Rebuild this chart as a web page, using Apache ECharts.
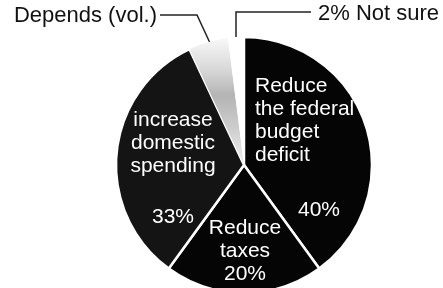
<!DOCTYPE html>
<html lang="en">
<head>
<meta charset="UTF-8">
<title>Pie</title>
<script src="https://cdn.jsdelivr.net/npm/echarts@6/dist/echarts.min.js"></script>
<style>
  html, body { margin: 0; padding: 0; background: #fff; }
  #chart { width: 443px; height: 288px; }
</style>
</head>
<body>
<div id="chart"></div>
<script>
  // data, clockwise from 12 o'clock
  var names = ['Reduce the federal budget deficit', 'Reduce taxes', 'increase domestic spending', 'Depends (vol.)', 'Not sure'];
  var values = [40, 20, 33, 5, 2];

  // speckled light gray for "Depends", densest around mid radius
  var dependsFill = new echarts.graphic.LinearGradient(0, 0, 0, 1, [
    { offset: 0, color: '#f8f8f8' },
    { offset: 0.25, color: '#d8d8d8' },
    { offset: 0.45, color: '#b4b4b4' },
    { offset: 0.7, color: '#cccccc' },
    { offset: 1, color: '#f0f0f0' }
  ]);
  var colors = ['#050505', '#050505', '#141414', dependsFill, '#ffffff'];
  var borders = [2.5, 2.5, 2.5, 0, 0];

  // label placement (pixel layout, not data)
  var labelPos = [
    { x: 255, y: 75, align: 'left' },
    { x: 245, y: 217, align: 'center' },
    { x: 173, y: 109, align: 'center' },
    { x: 157, y: 4, align: 'right' },
    { x: 318, y: 2, align: 'left' }
  ];

  function labelText(i) {
    var v = values[i] + '%';
    if (i === 0) return '{t|Reduce}\n{t|the federal}\n{t|budget}\n{t|deficit}\n{a|' + v + '}';
    if (i === 1) return '{t|Reduce}\n{t|taxes}\n{t|' + v + '}';
    if (i === 2) return '{t|increase}\n{t|domestic}\n{t|spending}\n{b|' + v + '}';
    if (i === 3) return '{k|' + names[i] + '}';
    return '{k|' + v + ' ' + names[i] + '}';
  }

  var chart = echarts.init(document.getElementById('chart'), null, { renderer: 'canvas' });

  var data = names.map(function (n, i) {
    return {
      name: n,
      value: values[i],
      itemStyle: { color: colors[i], borderWidth: borders[i] },
      label: { formatter: labelText(i) }
    };
  });

  var font = 'Liberation Sans';

  chart.setOption({
    animation: false,
    series: [{
      type: 'pie',
      center: [244, 165],
      radius: 128,
      startAngle: 90,
      clockwise: true,
      avoidLabelOverlap: false,
      silent: true,
      itemStyle: { borderColor: '#fff', borderWidth: 2.5 },
      label: {
        show: true,
        position: 'inside',
        fontFamily: font,
        rich: {
          t: { color: '#fff', fontSize: 21, lineHeight: 23, fontFamily: font },
          a: { color: '#fff', fontSize: 21, lineHeight: 87, padding: [0, 0, 0, 43], fontFamily: font },
          b: { color: '#fff', fontSize: 21, lineHeight: 79, fontFamily: font },
          k: { color: '#111', fontSize: 22, lineHeight: 23, fontFamily: font }
        }
      },
      labelLine: { show: false },
      labelLayout: function (p) {
        var l = labelPos[p.dataIndex];
        return { x: l.x, y: l.y, align: l.align, verticalAlign: 'top' };
      },
      data: data
    }],
    graphic: [
      {
        type: 'polyline',
        shape: { points: [[160, 15], [197, 15], [210, 43]] },
        style: { stroke: '#222', lineWidth: 1.5, fill: null }
      },
      {
        type: 'polyline',
        shape: { points: [[311, 12], [236, 12], [236, 37]] },
        style: { stroke: '#222', lineWidth: 1.5, fill: null }
      }
    ]
  });
</script>
</body>
</html>
